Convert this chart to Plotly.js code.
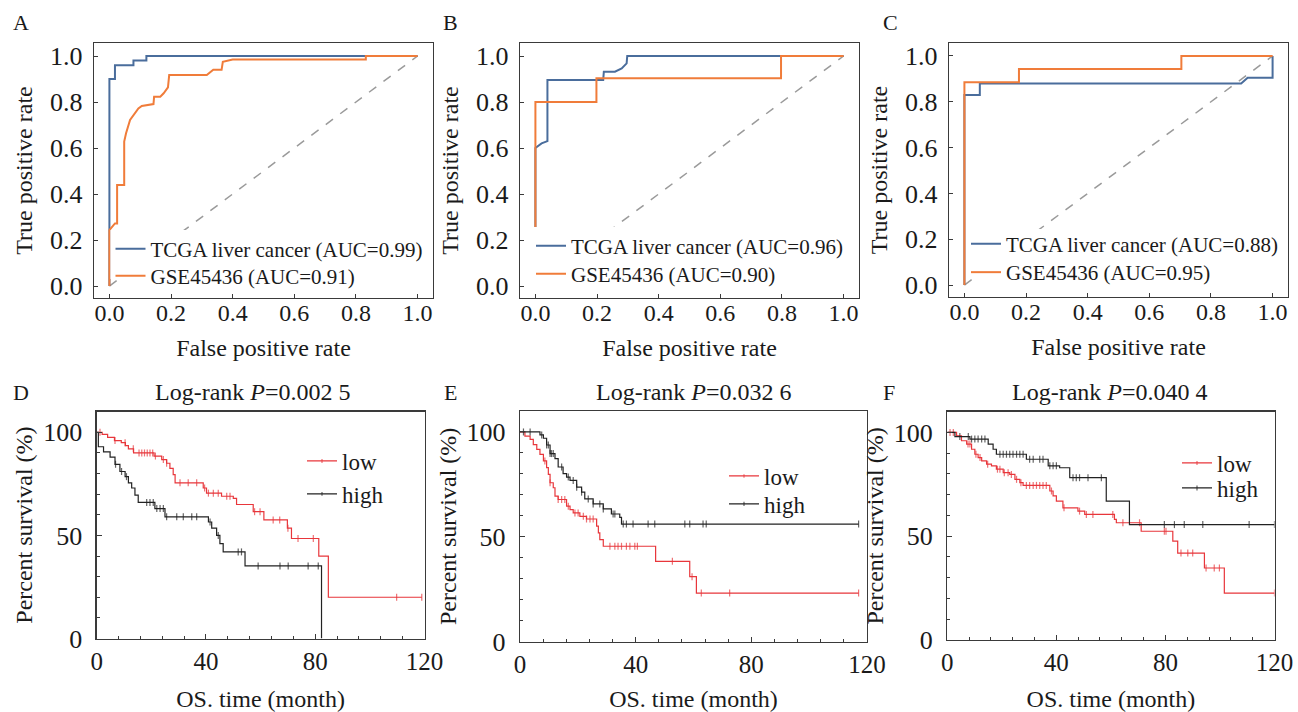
<!DOCTYPE html>
<html>
<head>
<meta charset="utf-8">
<script src="https://cdn.plot.ly/plotly-3.0.1.min.js"></script>
<style>
  html, body { margin: 0; padding: 0; background: #ffffff; }
  #chart { width: 1298px; height: 712px; }
</style>
</head>
<body>
<div id="chart"></div>
<script>
// ---------------- ROC data ----------------
const diagX = [0, 1];
const diagY = [0, 1];

const rocA_tcga_fpr = [0, 0, 0.018, 0.018, 0.078, 0.078, 0.12, 0.12, 1.0];
const rocA_tcga_tpr = [0, 0.90, 0.90, 0.96, 0.96, 0.98, 0.98, 1.0, 1.0];
const rocA_gse_fpr = [0, 0, 0.018, 0.025, 0.025, 0.048, 0.048, 0.054, 0.067, 0.078, 0.094, 0.105, 0.143, 0.145, 0.165, 0.176, 0.19, 0.194, 0.316, 0.337, 0.364, 0.368, 0.40, 0.832, 0.832, 1.0];
const rocA_gse_tpr = [0, 0.243, 0.272, 0.272, 0.439, 0.439, 0.628, 0.664, 0.722, 0.743, 0.772, 0.783, 0.791, 0.823, 0.823, 0.838, 0.864, 0.917, 0.917, 0.94, 0.94, 0.975, 0.985, 0.985, 1.0, 1.0];

const rocB_tcga_fpr = [0, 0, 0.02, 0.039, 0.039, 0.22, 0.222, 0.258, 0.28, 0.296, 0.298, 1.0];
const rocB_tcga_tpr = [0, 0.60, 0.62, 0.63, 0.896, 0.896, 0.932, 0.932, 0.946, 0.968, 1.0, 1.0];
const rocB_gse_fpr = [0, 0, 0.198, 0.198, 0.797, 0.797, 1.0];
const rocB_gse_tpr = [0, 0.80, 0.80, 0.903, 0.903, 1.0, 1.0];

const rocC_tcga_fpr = [0, 0, 0.05, 0.05, 0.898, 0.919, 1.0, 1.0];
const rocC_tcga_tpr = [0, 0.83, 0.83, 0.88, 0.88, 0.905, 0.905, 1.0];
const rocC_gse_fpr = [0, 0, 0.177, 0.177, 0.704, 0.704, 1.0];
const rocC_gse_tpr = [0, 0.885, 0.885, 0.943, 0.943, 1.0, 1.0];

const rocNames = {
  A: ["TCGA liver cancer (AUC=0.99)", "GSE45436 (AUC=0.91)"],
  B: ["TCGA liver cancer (AUC=0.96)", "GSE45436 (AUC=0.90)"],
  C: ["TCGA liver cancer (AUC=0.88)", "GSE45436 (AUC=0.95)"]
};

// ---------------- Kaplan-Meier data ----------------
// event times (month) and survival (%) after each step; censor times
const kmD_low_t = [0, 2, 4, 6.5, 9, 10.5, 11.6, 13.5, 21, 23.8, 25.6, 26.8, 28, 28.7, 39, 40.2, 45.7, 50, 51.2, 57.3, 61.2, 69.8, 71.3, 81.3, 84.8];
const kmD_low_s = [100, 99, 97.5, 96, 95, 93.5, 92, 90, 88.5, 86.8, 85, 82.5, 79.5, 75.5, 73, 70.5, 69, 68, 65, 61.5, 57.5, 53.5, 48.5, 40, 20];
const kmD_low_cens = [1.2, 6.7, 10.4, 13.4, 15.5, 16.5, 17.5, 18.5, 19.5, 20.5, 21.5, 24.4, 25.6, 30.5, 33.5, 36.6, 39.5, 40.9, 42.7, 44.5, 47.6, 48.8, 57.8, 59.8, 64.6, 67, 70, 73.7, 79.3, 109.8, 119];
const kmD_high_t = [0, 0.6, 2.5, 4.9, 6.7, 8.5, 10.4, 11.6, 12.8, 14, 15.2, 21.3, 25, 40.9, 42.1, 43.9, 45.1, 46.3, 54.3, 82.3];
const kmD_high_s = [100, 93, 90.5, 88, 84.5, 81, 78.5, 75.5, 73, 69.5, 66, 63, 59, 56.5, 53.5, 50, 46, 42, 35.2, 0];
const kmD_high_cens = [6.9, 9.1, 10.9, 18.3, 19.5, 20.7, 22, 23.2, 24.4, 25.6, 29.3, 31.7, 34.8, 36.6, 41.5, 44.5, 51.8, 53, 59.1, 67.1, 70.1, 77.4, 81.1];

const kmE_low_t = [0, 1.7, 3.5, 4.6, 5.8, 6.9, 8.1, 9.2, 9.8, 10.4, 11.5, 12.1, 13.2, 16.1, 17.3, 18.4, 20.7, 23, 26.5, 27.1, 27.6, 28.8, 46.9, 58.7, 61];
const kmE_low_s = [100, 98, 96.5, 94, 91.7, 89.3, 86.2, 83, 79.8, 75.8, 73.4, 69.4, 67.8, 64.6, 63, 61.4, 59.8, 58.5, 55.1, 51.9, 48.7, 45.5, 38.3, 31, 23.2];
const kmE_low_cens = [8.6, 10.4, 13.2, 14.4, 15.5, 16.7, 19, 20.1, 21.9, 23, 24.2, 25.3, 31.1, 32.8, 33.9, 35.1, 36.8, 38, 39.7, 40.6, 52.7, 59.5, 62.7, 72.5, 117.1];
const kmE_high_t = [0, 6.9, 8.1, 9.2, 10.4, 12.1, 13.2, 14.9, 16.1, 17.3, 19.6, 21.3, 22.4, 25.3, 28.8, 31.6, 34.5, 35.1];
const kmE_high_s = [100, 98.6, 97, 93.8, 89.7, 87.3, 83.3, 80.1, 78.5, 76.9, 73.7, 71.3, 68.1, 65.7, 63.3, 60.9, 59.3, 56.1];
const kmE_high_cens = [1.2, 3.5, 7.5, 9.2, 9.8, 10.4, 10.9, 11.5, 14.4, 16.7, 18.4, 19.6, 21.3, 23.6, 25.3, 27.6, 28.8, 32.2, 32.8, 35.7, 36.8, 39.1, 44.3, 46.6, 57, 58.7, 63.3, 64.4, 117.1];

const kmF_low_t = [0, 3.4, 5.2, 7.1, 8.9, 10.1, 11.3, 12.6, 14.4, 16.2, 18, 20.5, 22.9, 24.8, 26.6, 27.8, 37.6, 38.8, 40, 42.4, 47.9, 50.4, 61.3, 62, 71.1, 82.7, 84.5, 94.3, 101.6];
const kmF_low_s = [100, 98.4, 96, 94.4, 91.9, 89.5, 87.9, 86.3, 84.7, 83.9, 82.3, 80.6, 79.8, 77.4, 75.8, 74.5, 71.8, 69.4, 66.9, 63.7, 62.1, 60.5, 58.1, 56.5, 52.4, 47.6, 41.9, 34.7, 22.6];
const kmF_low_cens = [1, 2.2, 7.6, 8.3, 10.5, 12, 14.8, 18.4, 19.3, 20.9, 22.3, 23.5, 25.4, 27, 29, 30.2, 31.5, 32.7, 33.9, 35.1, 36.3, 38.2, 42.8, 48.5, 51, 53.4, 60.7, 64.4, 70.5, 79.6, 80.2, 85.7, 88.2, 90, 94.9, 97.9, 99.8, 120];
const kmF_high_t = [0, 2.8, 8.3, 15, 16.8, 18, 29, 37, 41.2, 44.9, 58.3, 66.8];
const kmF_high_s = [100, 98, 96.8, 94.4, 91.9, 89.5, 87.1, 83.9, 83, 78.2, 66.9, 55.6];
const kmF_high_cens = [4.6, 7.7, 8.9, 10.1, 11.3, 12.6, 13.8, 19.3, 20.5, 21.7, 22.9, 24.1, 25.4, 26.6, 27.8, 30.2, 31.5, 33.9, 35.1, 37.6, 38.8, 40, 46.1, 47.3, 48.5, 51.6, 56.5, 79.6, 83.3, 86.9, 93.7, 110.7, 120];

const kmTitles = ["Log-rank <i>P</i>=0.002 5", "Log-rank <i>P</i>=0.032 6", "Log-rank <i>P</i>=0.040 4"];
const groupNames = ["low", "high"];
const panelLetters = ["A", "B", "C", "D", "E", "F"];

// ---------------- styling ----------------
const FONT = "Liberation Serif";
const TXT = "#1a1a1a";
const BLUE = "#4a6d9c";
const ORANGE = "#f07c3a";
const RED = "#e8363b";
const BLACK = "#222222";
const FRAME = "#3a3a3a";
const W = 1298, H = 712;

// merge event steps and censor marks into one step path (censor points lie on the step)
function kmPath(evT, evS, cens) {
  const pts = evT.map((t, i) => ({ t: t, s: evS[i], c: 0 }));
  cens.forEach(ct => {
    let lvl = evS[0];
    for (let i = 0; i < evT.length; i++) { if (evT[i] <= ct) lvl = evS[i]; }
    pts.push({ t: ct, s: lvl, c: 1 });
  });
  pts.sort((a, b) => (a.t - b.t) || (a.c - b.c));
  return { x: pts.map(p => p.t), y: pts.map(p => p.s), size: pts.map(p => p.c ? 5 : 0) };
}

const traces = [];
const rocSets = [
  { ax: "", legs: ["legend", "legend2"], tcga: [rocA_tcga_fpr, rocA_tcga_tpr], gse: [rocA_gse_fpr, rocA_gse_tpr], names: rocNames.A },
  { ax: "2", legs: ["legend3", "legend4"], tcga: [rocB_tcga_fpr, rocB_tcga_tpr], gse: [rocB_gse_fpr, rocB_gse_tpr], names: rocNames.B },
  { ax: "3", legs: ["legend5", "legend6"], tcga: [rocC_tcga_fpr, rocC_tcga_tpr], gse: [rocC_gse_fpr, rocC_gse_tpr], names: rocNames.C }
];
rocSets.forEach(r => {
  traces.push({ x: diagX, y: diagY, xaxis: "x" + r.ax, yaxis: "y" + r.ax, mode: "lines",
    line: { color: "#9a9a9a", width: 1.5, dash: "dash" }, showlegend: false, hoverinfo: "skip" });
  traces.push({ x: r.tcga[0], y: r.tcga[1], xaxis: "x" + r.ax, yaxis: "y" + r.ax, mode: "lines",
    name: r.names[0], legend: r.legs[0], line: { color: BLUE, width: 2 } });
  traces.push({ x: r.gse[0], y: r.gse[1], xaxis: "x" + r.ax, yaxis: "y" + r.ax, mode: "lines",
    name: r.names[1], legend: r.legs[1], line: { color: ORANGE, width: 2 } });
});

const kmSets = [
  { ax: "4", legs: ["legend7", "legend8"], low: [kmD_low_t, kmD_low_s, kmD_low_cens], high: [kmD_high_t, kmD_high_s, kmD_high_cens] },
  { ax: "5", legs: ["legend9", "legend10"], low: [kmE_low_t, kmE_low_s, kmE_low_cens], high: [kmE_high_t, kmE_high_s, kmE_high_cens] },
  { ax: "6", legs: ["legend11", "legend12"], low: [kmF_low_t, kmF_low_s, kmF_low_cens], high: [kmF_high_t, kmF_high_s, kmF_high_cens] }
];
kmSets.forEach(k => {
  [[k.low, RED], [k.high, BLACK]].forEach(([d, col], gi) => {
    const p = kmPath(d[0], d[1], d[2]);
    traces.push({ x: p.x, y: p.y, xaxis: "x" + k.ax, yaxis: "y" + k.ax, mode: "lines+markers",
      name: groupNames[gi], legend: k.legs[gi],
      line: { color: col, width: 1.2, shape: "hv" },
      marker: { symbol: "line-ns", size: p.size, color: col, line: { color: col, width: 1.2 } } });
  });
});

// ---------------- layout ----------------
function px2x(p) { return p / W; }
function px2y(p) { return 1 - p / H; }

const titleFont = { family: FONT, size: 24, color: TXT };

function rocX(dom, anchor) {
  return { domain: dom, anchor: anchor, range: [-0.05, 1.05], dtick: 0.2, tick0: 0, tickformat: ".1f",
    ticks: "inside", ticklen: 4, tickcolor: FRAME, showline: true, linecolor: FRAME, linewidth: 1.3, mirror: true,
    showgrid: false, zeroline: false, tickfont: { family: FONT, size: 24, color: TXT }, ticklabelstandoff: -7,
    title: { text: "False positive rate", font: titleFont, standoff: 14 } };
}
function rocY(dom, anchor) {
  return { domain: dom, anchor: anchor, range: [-0.052, 1.0565], dtick: 0.2, tick0: 0, tickformat: ".1f",
    ticks: "inside", ticklen: 4, tickcolor: FRAME, showline: true, linecolor: FRAME, linewidth: 1.3, mirror: true,
    showgrid: false, zeroline: false, tickfont: { family: FONT, size: 26, color: TXT }, ticklabelstandoff: 5,
    title: { text: "True positive rate", font: titleFont, standoff: 10 } };
}
function kmX(dom, anchor) {
  return { domain: dom, anchor: anchor, range: [0, 120], dtick: 40, tick0: 0,
    ticks: "inside", ticklen: 5, tickcolor: FRAME, showline: true, linecolor: FRAME, linewidth: 1.3, mirror: true,
    minor: { dtick: 8, ticks: "inside", ticklen: 3, tickcolor: FRAME, showgrid: false },
    showgrid: false, zeroline: false, tickfont: { family: FONT, size: 25, color: TXT }, ticklabelstandoff: 0,
    title: { text: "OS. time (month)", font: titleFont, standoff: 17 } };
}
function kmY(dom, anchor) {
  return { domain: dom, anchor: anchor, range: [0, 110], dtick: 50, tick0: 0,
    ticks: "inside", ticklen: 5, tickcolor: FRAME, showline: true, linecolor: FRAME, linewidth: 1.3, mirror: true,
    minor: { dtick: 10, ticks: "inside", ticklen: 3, tickcolor: FRAME, showgrid: false },
    showgrid: false, zeroline: false, tickfont: { family: FONT, size: 26, color: TXT }, ticklabelstandoff: 8,
    title: { text: "Percent survival (%)", font: titleFont, standoff: 3 } };
}

const topY = [px2y(298), px2y(43)];
const layout = {
  width: W, height: H,
  margin: { l: 0, r: 0, t: 0, b: 0 },
  paper_bgcolor: "#ffffff", plot_bgcolor: "#ffffff",
  font: { family: FONT, color: TXT },
  xaxis: rocX([px2x(94), px2x(433)], "y"),
  yaxis: rocY(topY, "x"),
  xaxis2: rocX([px2x(520), px2x(859)], "y2"),
  yaxis2: rocY(topY, "x2"),
  xaxis3: rocX([px2x(949), px2x(1288)], "y3"),
  yaxis3: rocY([px2y(297), px2y(43)], "x3"),
  xaxis4: kmX([px2x(96.7), px2x(424.5)], "y4"),
  yaxis4: kmY([px2y(638.5), px2y(411.7)], "x4"),
  xaxis5: kmX([px2x(520), px2x(867)], "y5"),
  yaxis5: kmY([px2y(641.7), px2y(411)], "x5"),
  xaxis6: kmX([px2x(947.3), px2x(1274.5)], "y6"),
  yaxis6: kmY([px2y(640), px2y(411.7)], "x6"),
  annotations: [],
  shapes: []
};

// one legend per entry so each row sits where the reference has it
const legendSpots = [
  // [name, left px, centre y px, font size]
  ["legend", 110.5, 249, 21], ["legend2", 110.5, 276, 21],
  ["legend3", 531, 246, 21], ["legend4", 531, 274, 21],
  ["legend5", 966, 244, 21], ["legend6", 966, 272.5, 21],
  ["legend7", 302, 461, 23], ["legend8", 302, 494, 23],
  ["legend9", 724, 476, 23], ["legend10", 724, 504, 23],
  ["legend11", 1177, 463, 23], ["legend12", 1177, 488, 23]
];
legendSpots.forEach(([nm, lx, cy, fs]) => {
  layout[nm] = { x: px2x(lx), y: px2y(cy), xanchor: "left", yanchor: "middle",
    bgcolor: "rgba(0,0,0,0)", borderwidth: 0, font: { family: FONT, size: fs, color: TXT } };
});
// white legend backing boxes of the ROC panels (they mask the chance line, as in the original)
const legendBoxes = [[110.5, 230, 430, 279], [530, 227, 856, 291], [967, 229, 1284, 279]];
legendBoxes.forEach(([x0, y0, x1, y1]) => {
  layout.shapes.push({ type: "rect", xref: "paper", yref: "paper", layer: "above",
    x0: px2x(x0), x1: px2x(x1), y0: px2y(y1), y1: px2y(y0),
    fillcolor: "#ffffff", line: { width: 0 } });
});

// panel letters
const letterPos = [[21, 22], [450, 22], [890, 22], [21, 392], [450, 392], [889, 392]];
panelLetters.forEach((L, i) => {
  layout.annotations.push({ text: L, xref: "paper", yref: "paper", x: px2x(letterPos[i][0]), y: px2y(letterPos[i][1]),
    xanchor: "center", yanchor: "middle", showarrow: false, font: { family: FONT, size: 22, color: TXT } });
});
// KM panel titles
const kmTitlePos = [[253, 391.5], [694, 391.5], [1110, 391.5]];
kmTitles.forEach((t, i) => {
  layout.annotations.push({ text: t, xref: "paper", yref: "paper", x: px2x(kmTitlePos[i][0]), y: px2y(kmTitlePos[i][1]),
    xanchor: "center", yanchor: "middle", showarrow: false, font: { family: FONT, size: 24, color: TXT } });
});

Plotly.newPlot("chart", traces, layout, { displayModeBar: false, staticPlot: true });
</script>
</body>
</html>
